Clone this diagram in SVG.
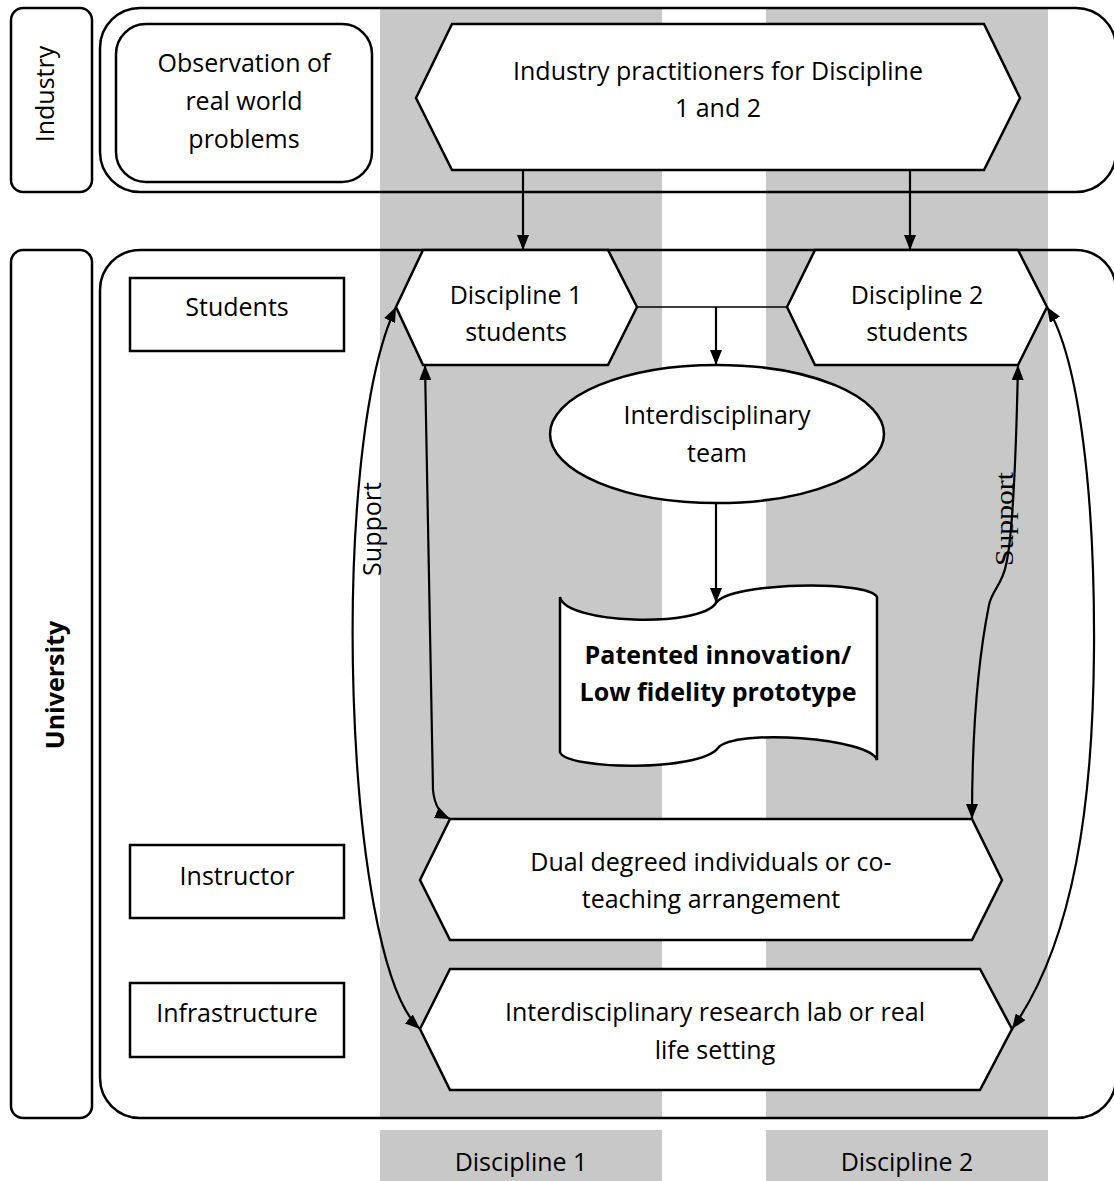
<svg xmlns="http://www.w3.org/2000/svg" width="1114" height="1181" viewBox="0 0 1114 1181">
<style>
.bg{fill:#c8c8c8}
.box{fill:#fff;stroke:#000;stroke-width:2.5}
.frame{fill:none;stroke:#000;stroke-width:2.5}
.t{font-family:"Open Sans","Liberation Sans",sans-serif;font-size:25px;text-anchor:middle;fill:#000}
.b{font-weight:bold}
.serif{font-family:"Liberation Serif",serif}
.c{fill:none;stroke:#000;stroke-width:2.2}
.thin{fill:none;stroke:#000;stroke-width:1.5}
</style>
<defs>
<marker id="ah" viewBox="0 0 10 10" refX="10" refY="5" markerWidth="15" markerHeight="12" preserveAspectRatio="none" markerUnits="userSpaceOnUse" orient="auto-start-reverse"><path d="M0,0 L10,5 L0,10 z" fill="#000"/></marker>
</defs>
<rect width="1114" height="1181" fill="#fff"/>
<g id="columns">
<rect class="bg" x="380" y="8" width="282" height="1110"/>
<rect class="bg" x="766" y="8" width="282" height="1110"/>
</g>
<g id="industry-label">
<rect class="frame" x="11" y="8" width="81" height="184" rx="12"/>
<text class="t" transform="translate(54,94) rotate(-90)">Industry</text>
</g>
<g id="industry-band"><rect class="frame" x="100" y="8" width="1016" height="184" rx="40"/></g>
<g id="university-label">
<rect class="frame" x="11" y="250" width="81" height="868" rx="12"/>
<text class="t b" transform="translate(64,685) rotate(-90)">University</text>
</g>
<g id="university-band"><rect class="frame" x="100" y="250" width="1016" height="868" rx="40"/></g>
<g id="observation">
<rect class="box" x="116" y="24" width="256" height="158" rx="30"/>
<text class="t" x="244" y="72">Observation of</text>
<text class="t" x="244" y="110">real world</text>
<text class="t" x="244" y="148">problems</text>
</g>
<g id="practitioners">
<polygon class="box" points="416,98 452,24 984,24 1020,98 984,170 452,170"/>
<text class="t" x="718" y="80">Industry practitioners for Discipline</text>
<text class="t" x="718" y="117">1 and 2</text>
</g>
<g id="students">
<rect class="box" x="130" y="278" width="214" height="73"/>
<text class="t" x="237" y="316">Students</text>
</g>
<g id="instructor">
<rect class="box" x="130" y="845" width="214" height="73"/>
<text class="t" x="237" y="885">Instructor</text>
</g>
<g id="infrastructure">
<rect class="box" x="130" y="983" width="214" height="74"/>
<text class="t" x="237" y="1022">Infrastructure</text>
</g>
<g id="d1-students">
<polygon class="box" points="396,307 423,250 608,250 637,307 608,365 423,365"/>
<text class="t" x="516" y="304">Discipline 1</text>
<text class="t" x="516" y="341">students</text>
</g>
<g id="d2-students">
<polygon class="box" points="787,307 815,250 1018,250 1047,307 1018,365 815,365"/>
<text class="t" x="917" y="304">Discipline 2</text>
<text class="t" x="917" y="341">students</text>
</g>
<g id="team">
<ellipse class="box" cx="717" cy="434" rx="167" ry="69"/>
<text class="t" x="717" y="424">Interdisciplinary</text>
<text class="t" x="717" y="462">team</text>
</g>
<g id="prototype">
<path class="box" d="M560,597 C565,624 700,628 716,603 C730,582 868,580 877,597 L877,760 C870,738 735,728 718,748 C700,772 565,770 560,752 Z"/>
<text class="t b" x="718" y="664">Patented innovation/</text>
<text class="t b" x="718" y="701">Low fidelity prototype</text>
</g>
<g id="instructor-hex">
<polygon class="box" points="420,880 450,819 972,819 1002,880 972,940 450,940"/>
<text class="t" x="711" y="871">Dual degreed individuals or co-</text>
<text class="t" x="711" y="908">teaching arrangement</text>
</g>
<g id="lab-hex">
<polygon class="box" points="420,1029 450,969 980,969 1012,1029 980,1090 450,1090"/>
<text class="t" x="715" y="1021">Interdisciplinary research lab or real</text>
<text class="t" x="715" y="1059">life setting</text>
</g>
<g id="support-left"><text class="t" transform="translate(381,529) rotate(-90)">Support</text></g>
<g id="support-right"><text class="t serif" transform="translate(1013,519) rotate(-90)" textLength="94" lengthAdjust="spacingAndGlyphs">Support</text></g>
<g id="connectors">
<path class="c" d="M523,170 L523,250" marker-end="url(#ah)"/>
<path class="c" d="M910,170 L910,250" marker-end="url(#ah)"/>
<path class="thin" d="M637,307 L787,307"/>
<path class="c" d="M716,307 L716,365" marker-end="url(#ah)"/>
<path class="c" d="M716,503 L716,603" marker-end="url(#ah)"/>
<path class="c" d="M396,307 C328,450 343,960 420,1029" marker-start="url(#ah)" marker-end="url(#ah)"/>
<path class="c" d="M425,365 L433,790 Q435,812 450,819" marker-start="url(#ah)" marker-end="url(#ah)"/>
<path class="c" d="M1018,365 C1016,460 1012,540 1006,565 C1002,585 992,590 989,605 C982,640 972,700 972,819" marker-start="url(#ah)" marker-end="url(#ah)"/>
<path class="c" d="M1047,307 C1080,360 1095,500 1094,650 C1093,800 1075,940 1012,1029" marker-start="url(#ah)" marker-end="url(#ah)"/>
</g>
<g id="legend">
<rect class="bg" x="380" y="1130" width="282" height="51"/>
<rect class="bg" x="766" y="1130" width="282" height="51"/>
<text class="t" x="521" y="1171">Discipline 1</text>
<text class="t" x="907" y="1171">Discipline 2</text>
</g>
</svg>
